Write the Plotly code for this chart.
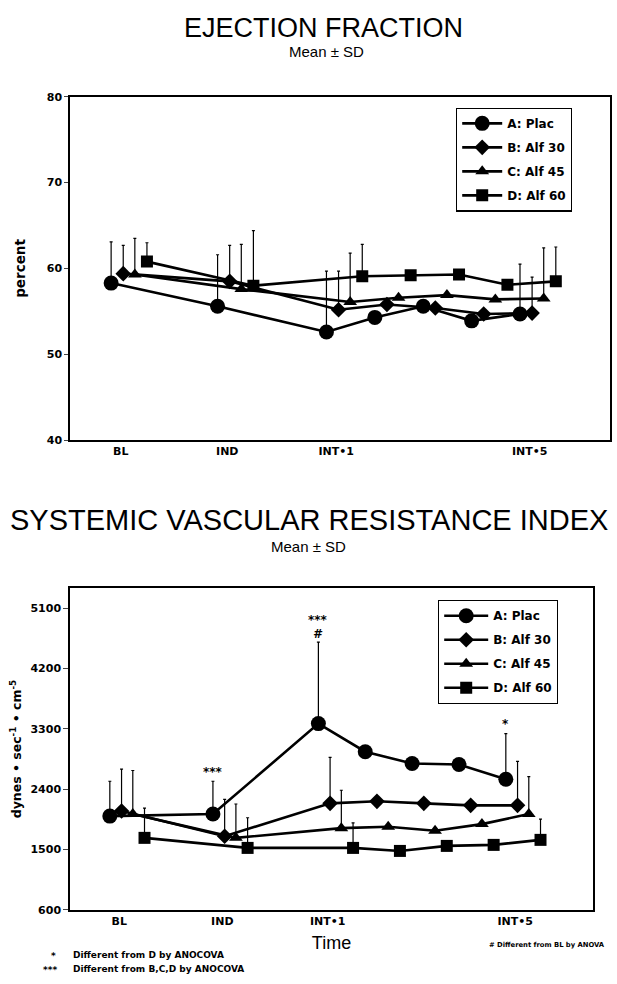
import plotly.graph_objects as go

# ---------------- data ----------------
time_labels = ["BL", "IND", "INT+1", "INT+2", "INT+3", "INT+4", "INT+5"]
time_pos = [0, 2.2, 4.45, 5.45, 6.45, 7.45, 8.45]
tick_labels = ["BL", "IND", "INT\u20221", "INT\u20225"]
tick_index = [0, 1, 2, 6]

series_names = ["A: Plac", "B: Alf 30", "C: Alf 45", "D: Alf 60"]

ef_A = [58.3, 55.6, 52.6, 54.3, 55.6, 53.9, 54.7]
ef_B = [59.4, 58.5, 55.2, 55.8, 55.4, 54.7, 54.8]
ef_C = [59.3, 57.6, 56.1, 56.6, 56.9, 56.4, 56.5]
ef_D = [60.8, 58.0, 59.1, 59.2, 59.3, 58.1, 58.5]
ef_sd_A = [4.8, 6.0, 7.1, None, None, None, 5.8]
ef_sd_B = [3.3, 4.2, 4.5, None, None, None, 4.2]
ef_sd_C = [4.2, 5.2, 5.7, None, None, None, 5.9]
ef_sd_D = [2.2, 6.4, 3.7, None, None, None, 4.0]

svri_A = [2000, 2030, 3380, 2960, 2785, 2770, 2550]
svri_B = [2075, 1700, 2190, 2220, 2190, 2160, 2160]
svri_C = [2030, 1675, 1820, 1840, 1780, 1880, 2030]
svri_D = [1675, 1525, 1525, 1480, 1555, 1570, 1645]
svri_sd_A = [520, 490, 1215, None, None, None, 680]
svri_sd_B = [625, 550, 685, None, None, None, 655]
svri_sd_C = [650, 505, 565, None, None, None, 560]
svri_sd_D = [445, 450, 375, None, None, None, 310]

ef_ticks = [40, 50, 60, 70, 80]
svri_ticks = [600, 1500, 2400, 3300, 4200, 5100]

# ---------------- styling ----------------
W, H = 617, 984
FONT = "Liberation Sans"
BFONT = "DejaVu Sans"
offsets = [0, 0.25, 0.49, 0.74]
symbols = ["circle", "diamond", "triangle-up", "square"]
sizes = [15, 12, 12, 12]


def px_x(p):
    return p / W


def px_y(p):
    return 1 - p / H


fig = go.Figure()

ef_sets = [(ef_A, ef_sd_A), (ef_B, ef_sd_B), (ef_C, ef_sd_C), (ef_D, ef_sd_D)]
svri_sets = [(svri_A, svri_sd_A), (svri_B, svri_sd_B), (svri_C, svri_sd_C), (svri_D, svri_sd_D)]


def add_series(sets, xa, ya, legend):
    for i, (vals, sds) in enumerate(sets):
        xs = [t + offsets[i] for t in time_pos]
        err = [s if s is not None else float("nan") for s in sds]
        fig.add_trace(go.Scatter(
            x=xs, y=vals, mode="lines+markers", name=series_names[i],
            xaxis=xa, yaxis=ya, legend=legend, legendgroup=f"{legend}{i}",
            line=dict(color="black", width=2.6),
            marker=dict(symbol=symbols[i], size=sizes[i], color="black"),
            error_y=dict(type="data", symmetric=False, array=err,
                         arrayminus=[0] * len(err), color="black",
                         thickness=1.2, width=1.5),
            hoverinfo="x+y",
        ))


add_series(ef_sets, "x", "y", "legend")
add_series(svri_sets, "x2", "y2", "legend2")

xrange = [-0.85, 10.31]
tickvals = [time_pos[k] + 0.2 for k in tick_index]

axis_common = dict(showgrid=False, zeroline=False, showline=True, linecolor="black",
                   linewidth=1.5, mirror=True)
tickfont = dict(family=BFONT, size=11, color="black", weight="bold")
legfont = dict(family=BFONT, size=12, color="black", weight="bold")

fig.update_layout(
    width=W, height=H, margin=dict(l=0, r=0, t=0, b=0),
    paper_bgcolor="white", plot_bgcolor="white",
    font=dict(family=FONT, color="black"),
    xaxis=dict(domain=[px_x(70), px_x(610)], range=xrange, anchor="y",
               tickvals=tickvals, ticktext=tick_labels, ticks="", tickfont=tickfont,
               **axis_common),
    yaxis=dict(domain=[px_y(440), px_y(92)], range=[40, 80], anchor="x",
               tickvals=ef_ticks, ticks="outside", ticklen=4, tickwidth=1,
               tickfont=tickfont,
               title=dict(text="percent", font=dict(family=BFONT, size=13.5, weight="bold"),
                          standoff=18),
               **axis_common),
    xaxis2=dict(domain=[px_x(70), px_x(593)], range=xrange, anchor="y2",
                tickvals=tickvals, ticktext=tick_labels, ticks="", tickfont=tickfont,
                title=dict(text="Time", font=dict(family=FONT, size=18), standoff=10),
                **axis_common),
    yaxis2=dict(domain=[px_y(916), px_y(590)], range=[600, 5400], anchor="x2",
                tickvals=svri_ticks, ticks="outside", ticklen=5, tickwidth=1,
                tickfont=tickfont,
                title=dict(text="dynes \u2022 sec<sup>-1</sup> \u2022 cm<sup>-5</sup>",
                           font=dict(family=BFONT, size=12.5, weight="bold"), standoff=6),
                **axis_common),
    legend=dict(x=px_x(456), y=px_y(103), xanchor="left", yanchor="top",
                bordercolor="black", borderwidth=1.2, bgcolor="white",
                font=legfont, tracegroupgap=5, itemwidth=40),
    legend2=dict(x=px_x(438), y=px_y(602), xanchor="left", yanchor="top",
                 bordercolor="black", borderwidth=1.2, bgcolor="white",
                 font=legfont, tracegroupgap=5, itemwidth=44),
    showlegend=True,
)

ann = []


def paper_text(text, x, y, size, family=FONT, xanchor="center", weight="normal"):
    ann.append(dict(text=text, x=px_x(x), y=px_y(y), xref="paper", yref="paper",
                    xanchor=xanchor, yanchor="middle", showarrow=False,
                    font=dict(family=family, size=size, weight=weight, color="black")))


paper_text("EJECTION FRACTION", 323, 22, 27)
paper_text("Mean \u00b1 SD", 326, 46, 15)
paper_text("SYSTEMIC VASCULAR RESISTANCE INDEX", 309, 521, 29)
paper_text("Mean \u00b1 SD", 308, 548, 15)

# significance marks above placebo points
marks = [(1, "***", 2665), (2, "***", 4930), (2, "<i>#</i>", 4720), (6, "*", 3380)]
for k, txt, yv in marks:
    ann.append(dict(text=txt, x=time_pos[k], y=yv, xref="x2", yref="y2", showarrow=False,
                    xanchor="center", yanchor="middle",
                    font=dict(family=BFONT, size=12, weight="bold", color="black")))

paper_text("*", 53, 963, 9, BFONT, "center", "bold")
paper_text("Different from D by ANOCOVA", 71, 962, 9, BFONT, "left", "bold")
paper_text("***", 50, 977, 9, BFONT, "center", "bold")
paper_text("Different from B,C,D by ANOCOVA", 71, 976, 9, BFONT, "left", "bold")
paper_text("# Different from BL by ANOVA", 487, 952, 6.8, BFONT, "left", "bold")

fig.update_layout(annotations=ann)

fig.write_html(
    "out.html",
    config={"displayModeBar": False},
    post_script="document.body.style.margin='0';document.body.style.overflow='hidden';",
)
